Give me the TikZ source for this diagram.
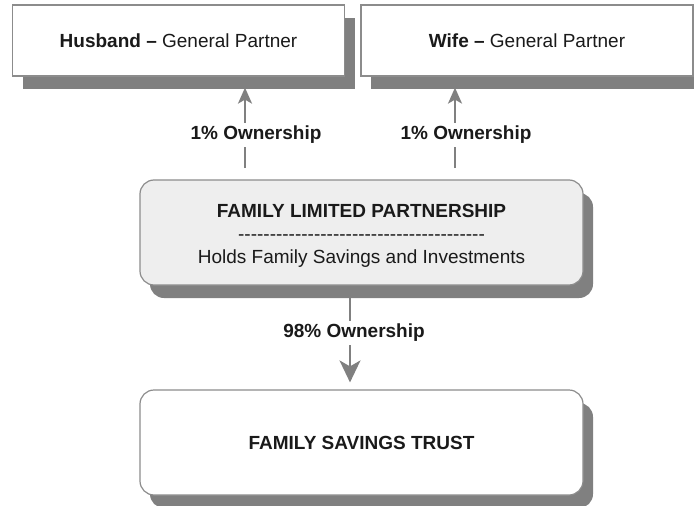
\documentclass[tikz,border=0pt]{standalone}
\usepackage{fontspec}
\setmainfont{Liberation Sans}
\usetikzlibrary{arrows.meta,shadows}
\definecolor{edgegray}{HTML}{8C8C8C}
\definecolor{shadowgray}{HTML}{808080}
\definecolor{flpfill}{HTML}{EEEEEE}
\definecolor{txt}{HTML}{1A1A1A}
\newcommand\dashrow{\foreach \k in {1,...,39}{-\kern0pt}}
\tikzset{
  partybox/.style={draw=edgegray, line width=1.2pt, fill=white,
    minimum width=332pt, minimum height=71pt, inner sep=0pt,
    font=\fontsize{19}{23}\selectfont, text=txt,
    drop shadow={shadow xshift=10pt, shadow yshift=-13pt, fill=shadowgray, opacity=1, draw=none}},
  roundbox/.style={partybox, rounded corners=14pt, minimum width=443pt, align=center},
  conn/.style={draw=shadowgray, line width=2pt},
  upconn/.style={conn, -{Stealth[length=16pt,width=14pt,inset=4pt]}, shorten >=11pt},
  downconn/.style={conn, -{Stealth[length=22pt,width=21pt,inset=6pt]}, shorten >=7pt},
  owner/.style={fill=white, inner sep=3pt, text=txt, font=\fontsize{19}{23}\selectfont\bfseries}
}
\begin{document}
\begin{tikzpicture}[x=1pt,y=-1pt]
\useasboundingbox (0,0) rectangle (694,506);
\node[partybox] (hus) at (178.5,40.5) {\textbf{Husband –} General Partner};
\node[partybox] (wife) at (527,40.5) {\textbf{Wife –} General Partner};
\node[roundbox, fill=flpfill, minimum height=105pt] (flp) at (361.5,232.5)
  {\rule{0pt}{19.6pt}\textbf{FAMILY LIMITED PARTNERSHIP}\\ \dashrow\\ Holds Family Savings and Investments};
\node[roundbox, minimum height=105pt] (trust) at (361.5,442.5) {\textbf{FAMILY SAVINGS TRUST}};
\coordinate (hs) at (245,168);
\coordinate (ws) at (455,168);
\coordinate (dn) at (350,300);
\draw[upconn] (hs) -- (hus.south -| hs);
\draw[upconn] (ws) -- (wife.south -| ws);
\draw[downconn] (flp.south -| dn) -- (trust.north -| dn);
\node[owner] (l1) at (256,135) {1\% Ownership};
\node[owner] (l2) at (466,135) {1\% Ownership};
\node[owner] (l3) at (354,333) {98\% Ownership};
\end{tikzpicture}
\end{document}
